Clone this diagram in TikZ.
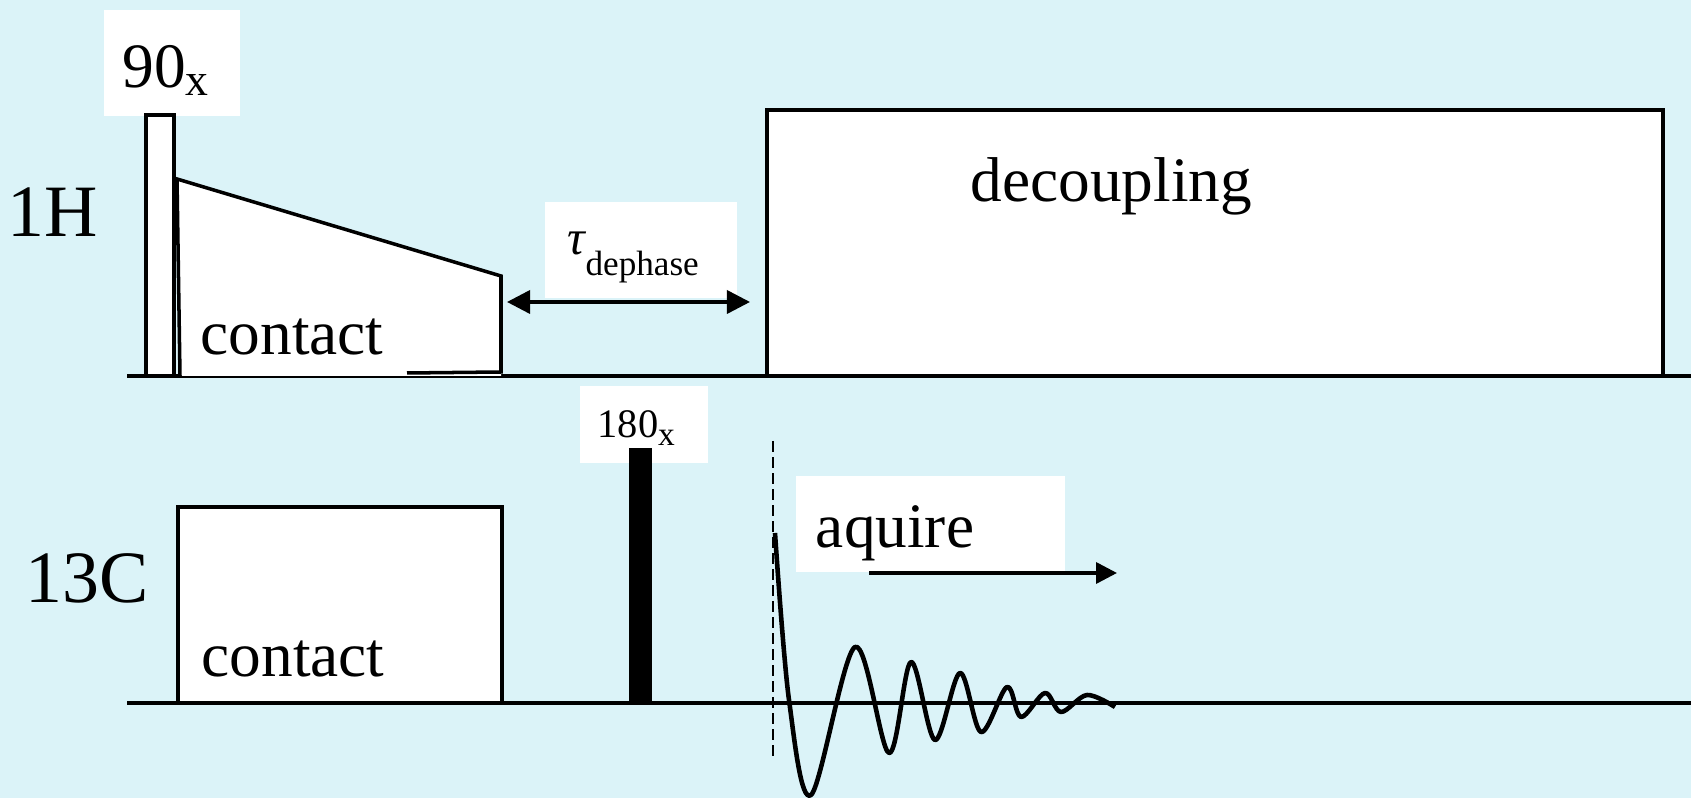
\documentclass[tikz,border=0pt]{standalone}
\usepackage{fontspec}
\setmainfont{Liberation Serif}
\usetikzlibrary{arrows.meta}
\definecolor{bgcyan}{RGB}{219,243,248}
\newcommand{\fsz}[1]{\fontsize{#1}{#1}\selectfont}

\begin{document}
\begin{tikzpicture}[x=0.01cm, y=-0.01cm,
  seq/.style={draw, line width=1pt, fill=white},
  lbl/.style={fill=white, inner ysep=0pt, align=left},
  txt/.style={anchor=base west, inner sep=0pt, font=\fsz{18}},
  dbl/.style={{Triangle[length=0.23cm, width=0.23cm]}-{Triangle[length=0.23cm, width=0.23cm]}, line width=1pt},
  arr/.style={-{Triangle[length=0.21cm, width=0.21cm]}, line width=1pt},
  fid/.style={line width=1.3pt, line join=round}
]
\fill[bgcyan] (0,0) rectangle (1691,798);
\useasboundingbox (0,0) rectangle (1691,798);

\draw[line width=1pt] (127,376) -- (1691,376);
\draw[line width=1pt] (127,703) -- (1691,703);

% 1H
\node[lbl, inner xsep=0.185cm, text width=0.99cm, text height=0.77cm, text depth=0.29cm]
  (p90) at (172,63) {\fsz{18}90\raisebox{-2.3pt}{\fsz{13}x}};
\draw[seq] (146,115) rectangle (174,376);
\fill[white] (180,376) -- (177,179) -- (501,276) -- (501,376) -- cycle;
\draw[line width=1pt] (180,376) -- (177,179) -- (501,276) -- (501,372) -- (407,373);
\draw[seq] (767,110) rectangle (1663,376);
\node[txt] (dec) at (970,202) {decoupling};
\node[txt] (ct1) at (200,355) {contact};
\node[lbl, inner xsep=0.23cm, text width=1.46cm, text height=0.53cm, text depth=0.43cm]
  (tau) at (641,250) {\fsz{14}\itshape τ\raisebox{-5.8pt}{\upshape\fsz{10}dephase}};
\coordinate (dl) at (507,302);
\coordinate (dr) at (750,302);
\draw[dbl] (dl) -- (dr);
\node[txt, font=\fsz{21}] (h1) at (7,237) {1H};

% 13C
\node[txt, font=\fsz{21}] (c13) at (25,603) {13C};
\draw[seq] (178,507) rectangle (502,703);
\node[txt] (ct2) at (201,677) {contact};
\node[lbl, inner xsep=0.176cm, text width=0.928cm, text height=0.52cm, text depth=0.25cm]
  (p180) at (644,424.5) {\fsz{11.5}180\raisebox{-2pt}{\fsz{9.5}x}};
\fill (629,448) rectangle (652,703);
\draw[line width=0.7pt, dash pattern=on 0.11cm off 0.05cm] (773,441) -- (773,757);
\node[lbl, inner xsep=0.2cm, text width=2.29cm, text height=0.71cm, text depth=0.25cm]
  (acq) at (930.5,524) {\fsz{18}aquire};
\coordinate (al) at (869,573);
\coordinate (ar) at (1117,573);
\draw[arr] (al) -- (ar);
\draw[fid] plot[smooth, tension=0.55] coordinates {(775,533) (789,700) (811,795) (855,647)
  (889,753) (911,662) (935,740) (960,673) (981,732) (1007,687) (1021,717) (1045,693)
  (1061,712) (1087,695) (1115,707)};
\end{tikzpicture}
\end{document}
